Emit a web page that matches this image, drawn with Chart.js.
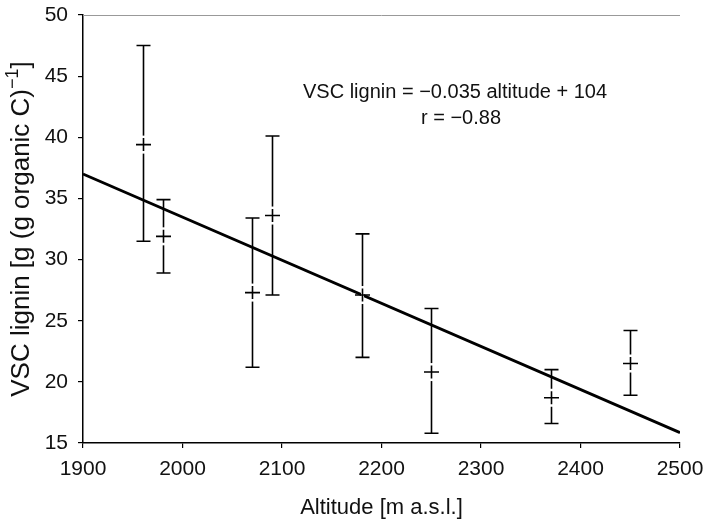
<!DOCTYPE html>
<html><head><meta charset="utf-8">
<script src="https://cdn.jsdelivr.net/npm/chart.js@4/dist/chart.umd.min.js"></script>
<style>html,body{margin:0;padding:0;background:#fff}#wrap{width:705px;height:523px;position:relative}</style>
</head><body><div id="wrap"><canvas id="c"></canvas></div>
<script>
const altitudes = [1960, 1980, 2070, 2090, 2180, 2250, 2370, 2450];
const means     = [39.4, 31.9, 27.3, 33.6, 27.1, 20.8, 18.7, 21.5];
const upper     = [47.5, 34.9, 33.4, 40.1, 32.1, 26.0, 21.0, 24.2];
const lower     = [31.5, 28.9, 21.2, 27.1, 22.0, 15.8, 16.6, 18.9];
const fitX = [1900, 2500];
const fitY = [37.0, 15.85];
const xTicks = [1900, 2000, 2100, 2200, 2300, 2400, 2500];
const yTicks = [15, 20, 25, 30, 35, 40, 45, 50];
const equationText = 'VSC lignin = \u22120.035 altitude + 104';
const rText = 'r = \u22120.88';
const xTitle = 'Altitude [m a.s.l.]';
const yTitleMain = 'VSC lignin [g (g organic C)';
const yTitleSup = '\u22121';
const yTitleEnd = ']';

const FONT = '"Liberation Sans", Arial, Helvetica, sans-serif';

const overlay = {
  id: 'overlay',
  afterDatasetsDraw(chart) {
    const ctx = chart.ctx, xs = chart.scales.x, ys = chart.scales.y;
    ctx.save();
    for (let i = 0; i < altitudes.length; i++) {
      const px = Math.round(xs.getPixelForValue(altitudes[i])) + 0.5;
      const pm = ys.getPixelForValue(means[i]);
      const pu = ys.getPixelForValue(upper[i]);
      const pl = ys.getPixelForValue(lower[i]);
      ctx.strokeStyle = '#000';
      ctx.lineWidth = 1.6;
      ctx.beginPath();
      ctx.moveTo(px, pu); ctx.lineTo(px, pl);
      ctx.moveTo(px - 7, pu); ctx.lineTo(px + 7, pu);
      ctx.moveTo(px - 7, pl); ctx.lineTo(px + 7, pl);
      ctx.stroke();
      ctx.strokeStyle = '#fff';
      ctx.lineWidth = 3;
      ctx.beginPath();
      ctx.moveTo(px, pm - 9); ctx.lineTo(px, pm + 9);
      ctx.stroke();
      ctx.strokeStyle = '#000';
      ctx.lineWidth = 1.6;
      ctx.beginPath();
      ctx.moveTo(px, pm - 6.5); ctx.lineTo(px, pm + 6.5);
      ctx.moveTo(px - 7.5, pm); ctx.lineTo(px + 7.5, pm);
      ctx.stroke();
    }
    ctx.restore();
  },
  afterDraw(chart) {
    const ctx = chart.ctx, a = chart.chartArea;
    ctx.save();
    ctx.strokeStyle = '#999';
    ctx.lineWidth = 1;
    ctx.beginPath();
    ctx.moveTo(a.left, a.top + 0.5); ctx.lineTo(a.right, a.top + 0.5);
    ctx.stroke();
    ctx.fillStyle = '#111';
    ctx.textBaseline = 'middle';
    ctx.font = '20px ' + FONT;
    ctx.textAlign = 'left';
    ctx.fillText(equationText, 303, 92);
    ctx.textAlign = 'center';
    ctx.fillText(rText, 461, 118);
    ctx.font = '22px ' + FONT;
    ctx.fillText(xTitle, (a.left + a.right) / 2, 508);
    ctx.translate(22, (a.top + a.bottom) / 2);
    ctx.rotate(-Math.PI / 2);
    const big = '26px ' + FONT, small = '18px ' + FONT;
    ctx.font = big;
    const w1 = ctx.measureText(yTitleMain).width;
    ctx.font = small;
    const w2 = ctx.measureText(yTitleSup).width;
    ctx.font = big;
    const w3 = ctx.measureText(yTitleEnd).width;
    let x0 = -(w1 + w2 + w3) / 2;
    ctx.textAlign = 'left';
    ctx.fillText(yTitleMain, x0, 0);
    ctx.font = small;
    ctx.fillText(yTitleSup, x0 + w1, -9);
    ctx.font = big;
    ctx.fillText(yTitleEnd, x0 + w1 + w2, 0);
    ctx.restore();
  }
};

new Chart(document.getElementById('c'), {
  type: 'line',
  data: {
    datasets: [{
      data: fitX.map((x, i) => ({x, y: fitY[i]})),
      borderColor: '#000',
      borderWidth: 2.8,
      pointRadius: 0,
      fill: false
    }]
  },
  options: {
    responsive: true,
    maintainAspectRatio: false,
    animation: false,
    events: [],
    layout: {padding: {left: 0, right: 25, top: 15, bottom: 0}},
    plugins: {legend: {display: false}, tooltip: {enabled: false}},
    scales: {
      x: {
        type: 'linear', min: 1900, max: 2500,
        afterBuildTicks: s => { s.ticks = xTicks.map(v => ({value: v})); },
        afterFit: s => { s.height = 80; s.paddingLeft = 0; s.paddingRight = 0; },
        grid: {drawOnChartArea: false, drawTicks: true, tickLength: 5, color: '#000', lineWidth: 1.2},
        border: {display: true, color: '#000', width: 1.5},
        ticks: {color: '#111', font: {family: FONT, size: 21}, padding: 9, maxRotation: 0, callback: v => String(v)}
      },
      y: {
        type: 'linear', min: 15, max: 50,
        afterBuildTicks: s => { s.ticks = yTicks.map(v => ({value: v})); },
        afterFit: s => { s.width = 83; s.paddingTop = 0; s.paddingBottom = 0; },
        grid: {drawOnChartArea: false, drawTicks: true, tickLength: 5, color: '#000', lineWidth: 1.2},
        border: {display: true, color: '#000', width: 1.5},
        ticks: {color: '#111', font: {family: FONT, size: 21}, padding: 10, callback: v => String(v)}
      }
    }
  },
  plugins: [overlay]
});
</script></body></html>
